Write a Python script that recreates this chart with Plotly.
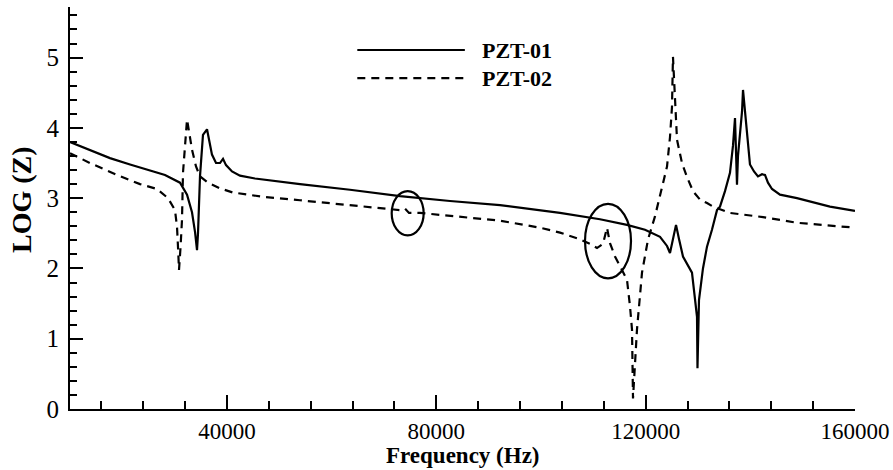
import plotly.graph_objects as go

# ---- data (frequency in Hz, LOG(Z)) ----
pzt01_freq = [10000, 13820, 17640, 21470, 25290, 28150, 31020, 32360, 33310, 33890,
              34270, 34460, 34840, 35410, 36180, 36560, 37130, 37900, 38660, 39240,
              39810, 40960, 42480, 45350, 48220, 53950, 63500, 73060, 82610, 92170,
              103630, 111270, 116430, 119870, 122740, 124080, 124650, 125220, 125800,
              126370, 127130, 128850, 129430, 129810, 129900, 130000, 130190, 130950,
              131720, 132670, 133630, 134200, 135160, 136110, 136690, 137070, 137260,
              137450, 137640, 138020, 138410, 138600, 138980, 139360, 139930, 140700,
              141460, 142230, 142800, 143370, 144140, 145670, 148910, 155220, 160000]
pzt01_logz = [3.80, 3.68, 3.57, 3.48, 3.40, 3.33, 3.22, 3.05, 2.80, 2.52,
              2.26, 2.50, 3.31, 3.90, 3.98, 3.85, 3.62, 3.50, 3.50, 3.56,
              3.47, 3.38, 3.32, 3.28, 3.25, 3.20, 3.12, 3.03, 2.96, 2.90,
              2.79, 2.70, 2.62, 2.55, 2.45, 2.32, 2.22, 2.40, 2.62,
              2.42, 2.17, 1.94, 1.60, 1.31, 0.58, 1.20, 1.55, 2.00,
              2.31, 2.55, 2.83, 2.88, 3.10, 3.36, 3.75, 4.14, 3.50,
              3.19, 3.60, 3.87, 4.23, 4.54, 4.25, 4.02, 3.48, 3.38,
              3.31, 3.34, 3.33, 3.22, 3.13, 3.05, 3.00, 2.88, 2.82]

pzt02_freq = [10000, 13820, 18980, 23380, 26620, 28730, 30060, 30450, 30640, 30830,
              31120, 31400, 31590, 31970, 32360, 32740, 33310, 34080, 34840, 36370,
              38660, 41150, 46880, 53950, 63500, 73060, 74010, 74780, 76880, 82610,
              92170, 99810, 103630, 106880, 109360, 110700, 111850, 112610, 113180,
              114140, 115480, 116430, 117010, 117390, 117580, 117960, 118340, 119300,
              120440, 121780, 123120, 124080, 124650, 125030, 125220, 125600, 125990,
              126940, 127900, 129040, 130380, 131720, 132860, 136110, 142420, 148910,
              155220, 160000]
pzt02_logz = [3.64, 3.50, 3.33, 3.20, 3.13, 3.00, 2.83, 2.59, 2.30, 1.98,
              2.30, 2.69, 3.36, 3.79, 4.12, 3.95, 3.69, 3.45, 3.31, 3.22,
              3.14, 3.08, 3.02, 2.97, 2.90, 2.83, 2.85, 2.79, 2.79, 2.75,
              2.68, 2.58, 2.51, 2.43, 2.35, 2.29, 2.35, 2.58, 2.36,
              2.17, 1.98, 1.84, 1.46, 1.13, 0.15, 0.60, 1.13, 1.94,
              2.41, 2.74, 3.16, 3.45, 3.87, 4.30, 5.01, 4.30, 3.83,
              3.50, 3.30, 3.10, 2.98, 2.93, 2.88, 2.79, 2.73, 2.65,
              2.61, 2.58]

series_names = ["PZT-01", "PZT-02"]

# highlighted regions (ellipses): [f0, f1, logz0, logz1]
highlight_1 = [71470, 77580, 2.47, 3.10]
highlight_2 = [108410, 117200, 1.86, 2.92]

x_range = [10000, 160000]
y_range = [0, 5.72]

FONT = "Liberation Serif, Times New Roman, serif"

fig = go.Figure()
fig.add_trace(go.Scatter(x=pzt01_freq, y=pzt01_logz, mode="lines", name=series_names[0],
                         line=dict(color="black", width=2.2), showlegend=False))
fig.add_trace(go.Scatter(x=pzt02_freq, y=pzt02_logz, mode="lines", name=series_names[1],
                         line=dict(color="black", width=2.2, dash="8px,6px"), showlegend=False))

# ellipses
for h in (highlight_1, highlight_2):
    fig.add_shape(type="circle", xref="x", yref="y", x0=h[0], x1=h[1], y0=h[2], y1=h[3],
                  line=dict(color="black", width=2.2))

# custom legend
leg = [(0.893, "solid"), (0.823, "8px,6px")]
for (yy, dsh), name in zip(leg, series_names):
    fig.add_shape(type="line", xref="paper", yref="paper", x0=0.366, x1=0.503, y0=yy, y1=yy,
                  line=dict(color="black", width=2.2, dash=dsh))
    fig.add_annotation(xref="paper", yref="paper", x=0.522, y=yy, text="<b>%s</b>" % name,
                       showarrow=False, xanchor="left", yanchor="middle",
                       font=dict(family=FONT, size=22, color="black"))

# axis titles
fig.add_annotation(xref="paper", yref="paper", x=0.5, y=0, yshift=-61, text="<b>Frequency (Hz)</b>",
                   showarrow=False, xanchor="center", yanchor="bottom",
                   font=dict(family=FONT, size=23, color="black"))
fig.add_annotation(xref="paper", yref="paper", x=0, xshift=-48, y=0.52, text="<b>LOG (Z)</b>",
                   showarrow=False, textangle=-90, xanchor="center", yanchor="middle",
                   font=dict(family=FONT, size=28, color="black"))

fig.update_layout(
    width=893, height=470,
    margin=dict(l=70, r=38, t=7, b=61, autoexpand=False),
    paper_bgcolor="white", plot_bgcolor="white",
    font=dict(family=FONT, size=24, color="black"),
    showlegend=False,
)
fig.update_xaxes(range=x_range, showgrid=False, zeroline=False, showline=True, automargin=False,
                 linecolor="black", linewidth=2, ticks="inside", ticklen=14, tickwidth=2,
                 tickcolor="black", tick0=0, dtick=40000, tickformat="d",
                 minor=dict(ticks="inside", ticklen=8, tickwidth=1.5, tickcolor="black",
                            tick0=0, dtick=8000, showgrid=False),
                 ticklabelstandoff=0,
                 tickfont=dict(family=FONT, size=23, color="black"))
fig.update_yaxes(range=y_range, showgrid=False, zeroline=False, showline=True, automargin=False,
                 linecolor="black", linewidth=2, ticks="inside", ticklen=13, tickwidth=2,
                 tickcolor="black", tick0=0, dtick=1,
                 minor=dict(ticks="inside", ticklen=7, tickwidth=1.5, tickcolor="black",
                            tick0=0, dtick=0.2, showgrid=False),
                 ticklabelstandoff=4,
                 tickfont=dict(family=FONT, size=25, color="black"))

fig.write_html("out.html")
